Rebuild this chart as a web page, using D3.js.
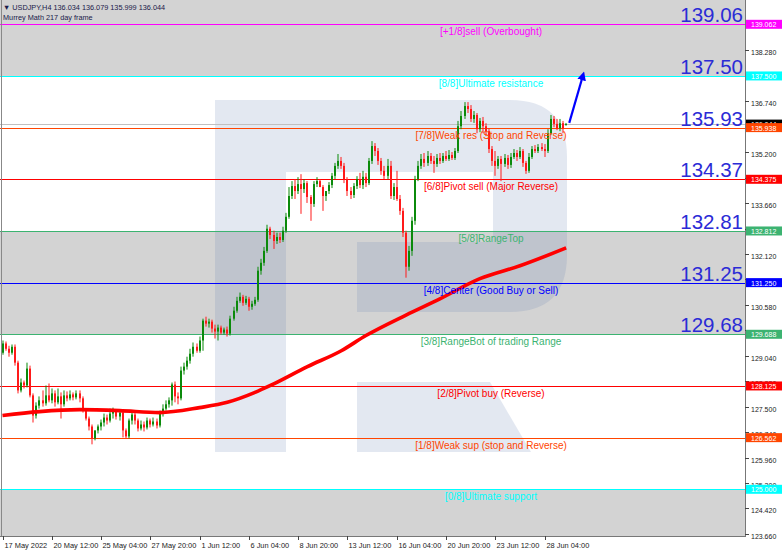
<!DOCTYPE html>
<html><head><meta charset="utf-8">
<script src="https://cdn.jsdelivr.net/npm/d3@7"></script>
<style>body{margin:0;background:#fff}svg{display:block}text{font-family:"Liberation Sans",Arial,sans-serif}</style>
</head><body><svg id="c" width="782" height="553"></svg>
<script>
// ---------- data ----------
const headerSymbol = "\u25BC USDJPY,H4  136.034 136.079 135.999 136.044";
const headerIndicator = "Murrey Math 217 day frame";
const xTickLabels = ["17 May 2022","20 May 12:00","25 May 04:00","27 May 20:00","1 Jun 12:00","6 Jun 04:00","8 Jun 20:00","13 Jun 12:00","16 Jun 04:00","20 Jun 20:00","23 Jun 12:00","28 Jun 04:00"];
const barsPerLabel = 16;
const yTicks = [138.280,136.740,135.200,134.420,133.660,132.880,132.120,131.360,130.580,129.820,129.040,128.280,127.500,126.740,125.960,125.200,124.420,123.660];

const openP = [129.13,129.41,129.25,129.13,129.31,128.83,127.99,128.23,128.14,128.65,
127.84,127.23,127.53,127.69,127.60,127.84,127.69,127.90,127.63,127.81,
127.57,127.84,127.75,127.87,127.78,127.90,127.75,127.38,127.14,126.90,
126.54,126.78,126.90,127.02,127.17,127.08,127.29,127.35,127.20,127.32,
126.78,126.60,127.08,127.26,127.08,126.84,126.96,126.87,127.08,126.96,
127.05,126.93,127.29,127.44,127.57,127.69,128.17,127.81,127.75,128.59,
128.71,128.89,129.10,129.31,129.19,129.50,130.10,130.01,130.07,129.86,
129.77,129.89,129.74,129.83,129.71,130.16,130.40,130.70,130.82,130.64,
130.76,130.52,130.61,130.73,131.61,131.85,132.21,132.88,132.69,132.51,
132.63,132.54,132.82,133.24,133.87,134.17,134.02,134.23,134.08,134.26,
133.84,133.63,134.23,134.32,134.14,133.87,134.02,134.20,134.48,134.78,
134.93,134.78,134.38,134.02,133.90,134.17,134.38,134.20,134.45,134.26,
134.93,135.38,135.23,134.93,134.63,134.48,134.78,133.87,134.14,133.78,
133.42,132.76,131.73,132.21,133.12,134.38,134.78,134.99,134.87,135.08,
134.93,134.84,135.02,134.93,135.08,134.99,135.11,135.02,135.23,135.98,
136.29,136.59,136.50,136.20,136.32,135.89,136.14,135.98,135.83,135.29,
134.93,134.78,134.99,134.84,135.02,134.81,135.05,135.17,135.05,135.23,
134.87,134.63,135.05,135.29,135.23,135.35,135.29,135.23,135.77,136.20,
136.05,135.92,136.07,136.034];
const highP = [129.50,129.47,129.34,129.38,129.38,128.89,128.35,128.29,128.83,128.74,
127.90,127.63,127.81,127.99,128.14,128.20,128.05,127.99,128.05,127.93,
127.99,127.96,127.99,127.93,127.99,127.99,127.81,127.44,127.20,126.96,
126.78,126.96,127.11,127.29,127.26,127.44,127.47,127.41,127.38,127.38,
126.84,127.14,127.38,127.32,127.14,127.08,127.05,127.17,127.14,127.17,
127.14,127.38,127.57,127.69,127.78,128.23,128.26,127.93,128.71,128.83,
129.01,129.25,129.44,129.41,129.62,130.16,130.22,130.16,130.13,129.98,
129.98,129.95,129.89,129.92,130.25,130.52,130.82,130.95,130.88,130.85,
130.82,130.70,130.82,131.73,131.97,132.33,133.00,132.94,132.82,132.76,
132.76,132.94,133.36,134.14,134.32,134.38,134.44,134.53,134.38,134.32,
133.90,134.32,134.44,134.38,134.20,133.96,134.29,134.57,134.87,135.14,
135.05,134.87,134.44,134.14,134.26,134.47,134.57,134.63,134.57,135.02,
135.53,135.47,135.32,135.02,134.78,134.99,134.93,134.26,134.63,133.90,
133.51,132.82,132.36,133.24,134.48,134.93,135.14,135.17,135.23,135.17,
135.08,135.14,135.17,135.17,135.23,135.26,135.20,135.32,136.14,136.44,
136.71,136.71,136.62,136.44,136.38,136.23,136.26,136.07,135.92,135.38,
135.23,135.08,135.08,135.14,135.11,135.17,135.29,135.26,135.35,135.29,
134.93,135.17,135.38,135.41,135.44,135.47,135.44,135.89,136.32,136.29,
136.20,136.20,136.14,136.079];
const lowP = [129.07,129.19,129.01,129.07,128.74,127.90,127.93,128.05,128.08,127.78,
127.02,127.14,127.44,127.50,127.53,127.63,127.60,127.50,127.57,127.14,
127.50,127.66,127.69,127.69,127.72,127.63,127.32,127.08,126.78,126.36,
126.48,126.69,126.78,126.90,126.96,127.02,127.14,127.11,127.08,126.57,
126.54,126.54,126.96,126.96,126.75,126.78,126.75,126.81,126.87,126.90,
126.84,126.87,127.20,127.38,127.47,127.53,127.63,127.57,127.69,128.47,
128.62,128.80,129.01,129.13,129.13,129.19,129.92,129.89,129.74,129.56,
129.50,129.68,129.68,129.62,129.65,130.10,130.34,130.64,130.55,130.58,
130.40,130.43,130.55,130.67,131.49,131.76,132.15,132.57,132.27,132.42,
132.45,132.48,132.76,133.18,133.78,133.78,133.93,133.33,133.96,133.66,
133.12,133.54,134.14,134.14,133.42,133.72,133.93,134.11,134.38,134.69,
134.69,134.26,133.87,133.78,133.81,134.08,134.11,134.08,134.14,134.20,
134.84,135.08,134.81,134.51,134.38,134.38,133.78,133.75,133.72,133.30,
132.63,131.40,131.61,132.06,133.00,134.32,134.69,134.75,134.78,134.84,
134.57,134.75,134.84,134.87,134.93,134.93,134.96,134.96,135.17,135.89,
136.20,136.38,136.11,136.08,135.77,135.80,135.77,135.68,135.17,134.78,
134.48,134.69,134.32,134.75,134.69,134.72,134.99,134.93,134.99,134.75,
134.54,134.57,134.99,135.17,135.17,135.23,135.05,135.17,135.71,135.95,
135.86,135.83,135.77,135.999];
const closeP = [129.41,129.25,129.13,129.31,128.83,127.99,128.23,128.14,128.65,127.84,
127.23,127.53,127.69,127.60,127.84,127.69,127.90,127.63,127.81,127.57,
127.84,127.75,127.87,127.78,127.90,127.75,127.38,127.14,126.90,126.54,
126.78,126.90,127.02,127.17,127.08,127.29,127.35,127.20,127.32,126.78,
126.60,127.08,127.26,127.08,126.84,126.96,126.87,127.08,126.96,127.05,
126.93,127.29,127.44,127.57,127.69,128.17,127.81,127.75,128.59,128.71,
128.89,129.10,129.31,129.19,129.50,130.10,130.01,130.07,129.86,129.77,
129.89,129.74,129.83,129.71,130.16,130.40,130.70,130.82,130.64,130.76,
130.52,130.61,130.73,131.61,131.85,132.21,132.88,132.69,132.51,132.63,
132.54,132.82,133.24,133.87,134.17,134.02,134.23,134.08,134.26,133.84,
133.63,134.23,134.32,134.14,133.87,134.02,134.20,134.48,134.78,134.93,
134.78,134.38,134.02,133.90,134.17,134.38,134.20,134.45,134.26,134.93,
135.38,135.23,134.93,134.63,134.48,134.78,133.87,134.14,133.78,133.42,
132.76,131.73,132.21,133.12,134.38,134.78,134.99,134.87,135.08,134.93,
134.84,135.02,134.93,135.08,134.99,135.11,135.02,135.23,135.98,136.29,
136.59,136.50,136.20,136.32,135.89,136.14,135.98,135.83,135.29,134.93,
134.78,134.99,134.84,135.02,134.81,135.05,135.17,135.05,135.23,134.87,
134.63,135.05,135.29,135.23,135.35,135.29,135.23,135.77,136.20,136.05,
135.92,136.07,135.92,136.044];

// moving average (read at bar positions)
const maBar = [0,12,25,38,51,64,73,82,87,99,110,118,131,142,155,168,183];
const maVal = [127.23,127.35,127.41,127.38,127.32,127.47,127.63,127.93,128.14,128.71,129.19,129.65,130.27,130.76,131.37,131.76,132.30];

// Murrey math levels
const levelValues = [139.062,137.500,135.938,134.375,132.812,131.250,129.688,128.125,126.562,125.000];
const levelNames = ["[+1/8]sell (Overbought)","[8/8]Ultimate resistance","[7/8]Weak res (Stop and Reverse)","[6/8]Pivot sell (Major Reverse)","[5/8]RangeTop","[4/8]Center (Good Buy or Sell)","[3/8]RangeBot of trading Range","[2/8]Pivot buy (Reverse)","[1/8]Weak sup (stop and Reverse)","[0/8]Ultimate support"];
const levelColors = ["#ff00ff","#00ffff","#ff4500","#ff0000","#3cb371","#0000ff","#3cb371","#ff0000","#ff4500","#00ffff"];
const bigLabels = ["139.06","137.50","135.93","134.37","132.81","131.25","129.68"];
const grayBands = [[137.500, 141.0],[129.688, 132.812],[122.0, 125.000]];
const bidPrice = 136.044;
const arrowBars = [184, 188.5];
const arrowPrices = [136.08, 137.53];

// ---------- layout ----------
const W = 782, H = 553;
const plotR = 745, plotB = 536;
const svg = d3.select("#c");
const y = d3.scaleLinear().domain([125.0, 139.062]).range([489.3, 24.3]);
const x = d3.scaleLinear().domain([0, 176]).range([2.5, 544.6]);

svg.append("rect").attr("width", W).attr("height", H).attr("fill", "#fff");

// gray bands
svg.append("g").selectAll("rect").data(grayBands).join("rect")
  .attr("x", 0).attr("width", plotR)
  .attr("y", d => Math.max(0, y(d[1])))
  .attr("height", d => Math.min(plotB, y(d[0])) - Math.max(0, y(d[1])))
  .attr("fill", "#d3d3d3");

// watermark logo
const wm = svg.append("g").attr("fill", "rgb(100,130,180)").attr("fill-opacity", 0.18);
wm.append("path").attr("d", "M215,100 H510 Q567,100 567,157 V255 Q567,312 510,312 H357 V242 H493 V172 H286 V452 H215 Z");
wm.append("path").attr("d", "M357,382 H490 L531,452 H357 Z");

// bid line
svg.append("line").attr("x1", 0).attr("x2", plotR)
  .attr("y1", Math.round(y(bidPrice)) + 0.5).attr("y2", Math.round(y(bidPrice)) + 0.5)
  .attr("stroke", "#c0c0c0").attr("stroke-width", 1);

// level lines
svg.append("g").selectAll("line").data(levelValues).join("line")
  .attr("x1", 0).attr("x2", plotR)
  .attr("y1", d => Math.round(y(d)) + 0.5).attr("y2", d => Math.round(y(d)) + 0.5)
  .attr("stroke", (d, i) => levelColors[i]).attr("stroke-width", 1.2);

// candles
const cg = svg.append("g");
closeP.forEach((c, i) => {
  const o = openP[i], h = highP[i], l = lowP[i];
  const cx = Math.round(x(i));
  const col = c >= o ? "#0b8a0b" : "#ff1a1a";
  cg.append("rect").attr("x", cx - 0.5).attr("width", 1)
    .attr("y", y(h)).attr("height", Math.max(1, y(l) - y(h))).attr("fill", col);
  const top = y(Math.max(o, c)), bot = y(Math.min(o, c));
  cg.append("rect").attr("x", cx - 1).attr("width", 2)
    .attr("y", top).attr("height", Math.max(1, bot - top)).attr("fill", col);
});

// moving average
svg.append("path").datum(maBar.map((b, i) => [b, maVal[i]]))
  .attr("d", d3.line().x(d => x(d[0])).y(d => y(d[1])).curve(d3.curveMonotoneX))
  .attr("fill", "none").attr("stroke", "#ff0000").attr("stroke-width", 3.6).attr("stroke-linejoin", "round");

// mid labels
svg.append("g").selectAll("text").data(levelValues).join("text")
  .attr("x", 491).attr("y", d => y(d) + 11).attr("text-anchor", "middle")
  .attr("font-size", 10).attr("fill", (d, i) => levelColors[i])
  .text((d, i) => levelNames[i]);

// big labels
svg.append("g").selectAll("text").data(bigLabels).join("text")
  .attr("x", 743).attr("y", (d, i) => y(levelValues[i]) - 2).attr("text-anchor", "end")
  .attr("font-size", 20.5).attr("fill", "#2b2bd6")
  .text(d => d);

// arrow
const defs = svg.append("defs");
defs.append("marker").attr("id", "ah").attr("viewBox", "0 0 10 10").attr("refX", 6).attr("refY", 5)
  .attr("markerWidth", 4).attr("markerHeight", 4).attr("orient", "auto")
  .append("path").attr("d", "M0,0 L10,5 L0,10 Z").attr("fill", "#0000ff");
svg.append("line").attr("x1", x(arrowBars[0])).attr("y1", y(arrowPrices[0]))
  .attr("x2", x(arrowBars[1])).attr("y2", y(arrowPrices[1]))
  .attr("stroke", "#0000ff").attr("stroke-width", 2.2).attr("marker-end", "url(#ah)");

// header
svg.append("text").attr("x", 3).attr("y", 10).attr("font-size", 7.3).attr("fill", "#1a1a4a").text(headerSymbol);
svg.append("text").attr("x", 3).attr("y", 20).attr("font-size", 7.3).attr("fill", "#1a1a4a").text(headerIndicator);

// frame
svg.append("rect").attr("x", plotR).attr("y", 0).attr("width", W - plotR).attr("height", H).attr("fill", "#fff");
svg.append("rect").attr("x", 0).attr("y", plotB).attr("width", W).attr("height", H - plotB).attr("fill", "#fff");
svg.append("line").attr("x1", 1.5).attr("x2", 1.5).attr("y1", 0).attr("y2", plotB).attr("stroke", "#888");
svg.append("line").attr("x1", plotR + 0.5).attr("x2", plotR + 0.5).attr("y1", 0).attr("y2", plotB + 1).attr("stroke", "#777");
svg.append("line").attr("x1", 0).attr("x2", plotR + 1).attr("y1", plotB + 0.5).attr("y2", plotB + 0.5).attr("stroke", "#777");

// right axis ticks
const ra = svg.append("g");
yTicks.forEach(t => {
  const ty = Math.round(y(t)) + 0.5;
  ra.append("line").attr("x1", plotR).attr("x2", plotR + 4).attr("y1", ty).attr("y2", ty).attr("stroke", "#444");
  ra.append("text").attr("x", 751).attr("y", ty + 4).attr("font-size", 7).attr("fill", "#222").text(t.toFixed(3));
});

// bottom axis ticks
const ba = svg.append("g");
xTickLabels.forEach((lab, k) => {
  const tx = Math.round(x(k * barsPerLabel)) + 0.5;
  ba.append("line").attr("x1", tx).attr("x2", tx).attr("y1", plotB).attr("y2", plotB + 4).attr("stroke", "#444");
  ba.append("text").attr("x", tx + 1).attr("y", 548).attr("font-size", 7.4).attr("fill", "#222").text(lab);
});

// price boxes
function box(p, fill, txt, tcol) {
  const cy = y(p);
  svg.append("rect").attr("x", plotR + 1).attr("y", cy - 4.5).attr("width", W - plotR - 1).attr("height", 9).attr("fill", fill);
  svg.append("text").attr("x", 751).attr("y", cy + 3).attr("font-size", 7).attr("fill", tcol).text(txt);
}
box(bidPrice, "#000", bidPrice.toFixed(3), "#fff");
levelValues.forEach((v, i) => box(v, levelColors[i], v.toFixed(3), "#fff"));
</script></body></html>
